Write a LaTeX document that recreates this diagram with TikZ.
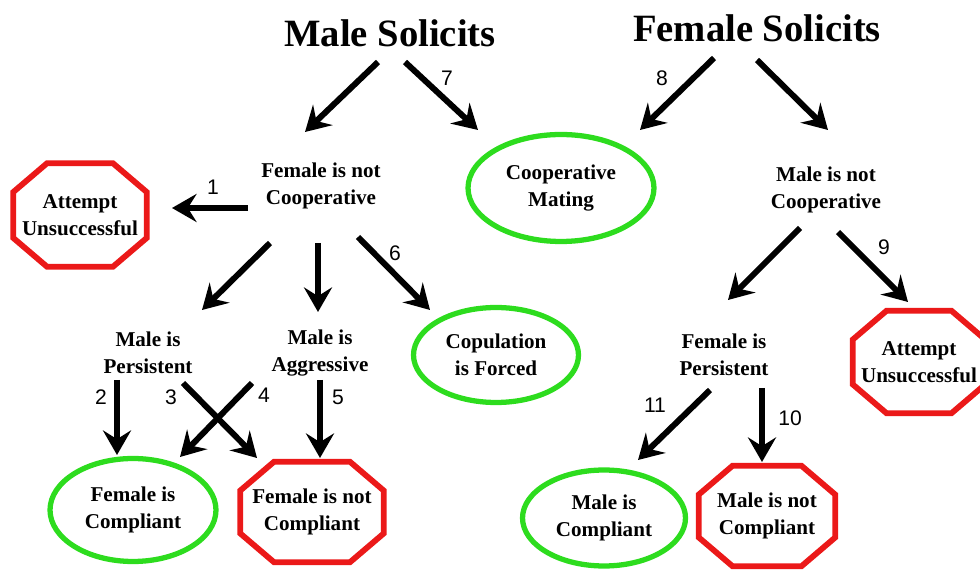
\documentclass[tikz,border=0pt]{standalone}
\usepackage{fontspec}
\setmainfont{Liberation Serif}
\newfontfamily\numfont{Liberation Sans}
\usetikzlibrary{shapes.geometric, arrows.meta, calc}
\definecolor{okgreen}{RGB}{45,220,30}
\definecolor{stopred}{RGB}{235,25,25}
\tikzset{
    arr/.style={line width=3.4pt, -{Stealth[length=14pt, width=16pt, inset=5pt]}},
    txt/.style={align=center, font=\fontsize{12}{15.3}\selectfont\bfseries},
    title/.style={font=\fontsize{22}{26}\selectfont\bfseries},
    oval/.style={txt, ellipse, draw=okgreen, line width=3pt, inner sep=0pt},
    stop/.style={txt, rectangle, inner sep=0pt},
    stopline/.style={draw=stopred, line width=3.3pt},
    num/.style={font=\fontsize{12}{14}\selectfont\numfont}
}
\newcommand\stopframe[1]{%
  \draw [stopline] ($(#1.north west)+(34,0)$) -- ($(#1.north east)+(-34,0)$)
    -- ($(#1.north east)+(0,-29)$) -- ($(#1.south east)+(0,29)$)
    -- ($(#1.south east)+(-34,0)$) -- ($(#1.south west)+(34,0)$)
    -- ($(#1.south west)+(0,29)$) -- ($(#1.north west)+(0,-29)$) -- cycle;}

\begin{document}
\begin{tikzpicture}[x=0.02cm, y=0.02cm]
    \useasboundingbox (0,0) rectangle (980,571);

    % titles
    \node [title] (ms) at (390,538) {Male Solicits};
    \node [title] (fs) at (757,543) {Female Solicits};

    % male solicits branch
    \node [txt] (fnoco) at (321,385) {Female is not\\Cooperative};
    \node [stop, minimum width=2.66cm, minimum height=2.06cm] (attm) at (80,356) {Attempt\\Unsuccessful};
    \stopframe{attm}
    \node [oval, minimum width=3.72cm, minimum height=2.14cm] (coopm) at (561,383) {Cooperative\\Mating};
    \node [txt] (mpers) at (148,218) {Male is\\Persistent};
    \node [txt] (maggr) at (320,218) {Male is\\Aggressive};
    \node [oval, minimum width=3.3cm, minimum height=1.9cm] (copf) at (496,216) {Copulation\\is Forced};
    \node [oval, minimum width=3.32cm, minimum height=2.06cm] (fcomp) at (133,61) {Female is\\Compliant};
    \node [stop, minimum width=2.86cm, minimum height=2.0cm] (fnocomp) at (312,59) {Female is not\\Compliant};
    \stopframe{fnocomp}

    % female solicits branch
    \node [txt] (mnoco) at (826,381) {Male is not\\Cooperative};
    \node [txt] (fpers) at (724,216) {Female is\\Persistent};
    \node [stop, minimum width=2.64cm, minimum height=2.04cm] (attf) at (919,209) {Attempt\\Unsuccessful};
    \stopframe{attf}
    \node [oval, minimum width=3.26cm, minimum height=1.92cm] (mcomp) at (604,53) {Male is\\Compliant};
    \node [stop, minimum width=2.72cm, minimum height=2.0cm] (mnocomp) at (767,55) {Male is not\\Compliant};
    \stopframe{mnocomp}

    % arrows
    \draw [arr] ([shift={(-12,-29)}]ms.center) -- ([shift={(-16,54)}]fnoco.center);
    \draw [arr] ([shift={(15,-29)}]ms.center) -- ([shift={(-83,58)}]coopm.center);
    \draw [arr] ([shift={(-43,-30)}]fs.center) -- ([shift={(79,58)}]coopm.center);
    \draw [arr] ([shift={(0,-32)}]fs.center) -- ([shift={(2,60)}]mnoco.center);
    \draw [arr] ([shift={(-73,-22)}]fnoco.center) -- ([shift={(92,7)}]attm.center);
    \draw [arr] ([shift={(-51,-57)}]fnoco.center) -- ([shift={(54,43)}]mpers.center);
    \draw [arr] ([shift={(-3,-57)}]fnoco.center) -- ([shift={(-2,41)}]maggr.center);
    \draw [arr] ([shift={(37,-51)}]fnoco.center) -- ([shift={(-66,45)}]copf.center);
    \draw [arr] ([shift={(-26,-38)}]mnoco.center) -- ([shift={(4,55)}]fpers.center);
    \draw [arr] ([shift={(12,-42)}]mnoco.center) -- ([shift={(-11,60)}]attf.center);
    \draw [arr] ([shift={(-31,-27)}]mpers.center) -- ([shift={(-16,55)}]fcomp.center);
    \draw [arr] ([shift={(35,-30)}]mpers.center) -- ([shift={(-55,54)}]fnocomp.center);
    \draw [arr] ([shift={(-68,-30)}]maggr.center) -- ([shift={(47,53)}]fcomp.center);
    \draw [arr] ([shift={(0,-27)}]maggr.center) -- ([shift={(8,54)}]fnocomp.center);
    \draw [arr] ([shift={(-14,-35)}]fpers.center) -- ([shift={(34,58)}]mcomp.center);
    \draw [arr] ([shift={(38,-33)}]fpers.center) -- ([shift={(-5,54)}]mnocomp.center);

    % arrow numbers
    \node [num] (n1) at (213,384) {1};
    \node [num] (n2) at (101,174) {2};
    \node [num] (n3) at (171,174) {3};
    \node [num] (n4) at (264,176) {4};
    \node [num] (n5) at (338,174) {5};
    \node [num] (n6) at (395,318) {6};
    \node [num] (n7) at (447,493) {7};
    \node [num] (n8) at (662,493) {8};
    \node [num] (n9) at (884,324) {9};
    \node [num] (n10) at (790,153) {10};
    \node [num] (n11) at (655,166) {11};
\end{tikzpicture}
\end{document}
